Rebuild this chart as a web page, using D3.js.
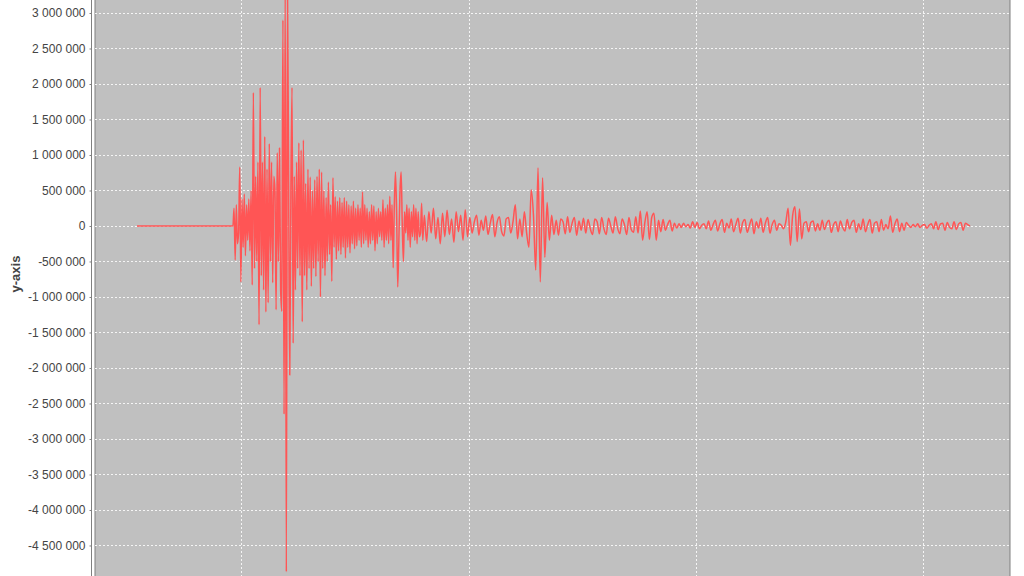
<!DOCTYPE html>
<html>
<head>
<meta charset="utf-8">
<script src="https://cdn.jsdelivr.net/npm/d3@7"></script>
<style>
  html, body { margin: 0; padding: 0; background: #ffffff; }
  svg { display: block; }
</style>
</head>
<body>
<svg id="chart" width="1024" height="576"></svg>
<script>
// ---- data (values in thousands) ----
const leadTimes = [5.41, 9.58];
const leadValues = [0, 0];

const burstStart = 9.63, burstStep = 0.05;
const burstValues = [
  0, 250, -480, 300, -250, -100, 830, -790, 380, -300,
  450, -420, 300, -200, 380, -350, 500, -830, 1880, -600,
  700, -500, 900, -1390, 1950, -700, 900, -900, 1260, -1210,
  800, -1080, 1160, -500, 900, -800, 700, 500, -1180, 1030,
  -500, 1100, -900, -1200, 2900, -2650, 3400, -4870, 3400, 600,
  -2100, 500, 1950, -1650, 700, -900, 900, -600, 1170, -700,
  1070, -1350, 1210, -700, 600, -900, 800, -600, 690, -850,
  500, -600, 650, -710, 700, -500, 800, -1000, 760, -600,
  500, -700, 400, -500, 620, -400, 300, -780, 680, -300,
  410, -470, 350, -350, 400, -400, 330, -300, 400, -450,
  350, -300, 300, -380, 280, -250, 350, -320, 250, -280,
  300, -200, 250, -300, 480, -250, 300, -200, 250, -300,
  200, -250, 300, -200, 280, -350, 200, -250, 250, -150,
  200, -200, 370, -300, 250, -200, 300, -250, 420, -200,
  300, -590, 300, 760, 200, -860, -200, 500, 760, 0,
  -500, 200, -100, 300, -200, 250, -300, 200, -150, 300,
  -200, 250, -250, 200, -150, -100, 320, -200
];

const codaStart = 18.05, codaStep = 0.1;
const codaValues = [
  150, -220, 200, -100, 250, -180, 120, -250, 180, -150,
  220, -120, 100, -230, 200, -80, 150, -200, 230, -150,
  120, -100, 60, 150, -130, 80, -60, 140, -120, 40,
  160, -150, 50, 130, -80, -140, 100, 120, -100, 60,
  300, -180, 100, -150, 200, -100,
  -300, 510, 150, -620, 820, -790, 680, -440, 330, -200, 150,
  -120, 80, -130, 100, 60, -110, 130, -90, 40, 120,
  -130, 70, -60, 110, -100, 90, -40, -120, 100, 60, -110,
  120, -40, -120, 110, 0, -100, 130, -30, -110, 100,
  20, -120, 120, -50, -90, 130,
  -100, 210, -200, 50, 200, -190, 120, 180, -200, 80,
  -80, 90, -60, 20, 80, -70, 40, -30, 30, -20,
  40, -10, 20, -30, 60, -20, 50, -40, 10, 30,
  -40, 70, -60, 20, 80, -70, 30, 90, -90, 40,
  -30, 100, -80, 20, 110, -100, 50, 90, -90, 10,
  100, -110, 60, -30, 110, -90, 40, 120, -100, 20,
  80, -60, 30, 10, -40, 60,
  250, -270, 150, 270, -220, 240, -180, 40,
  60, -80, 50, 70, -70, 30, -60, 80, -50, 40,
  80, -90, 20, 60, -80, 70, -20, -70, 90, -40,
  50, 80, -90, 30, -50, 100, -80, 20, 90, -100,
  40, 60, -80, 90, -60, 20, -40, 140,
  -90, 30, 100, -80, 40, -60, 50,
  10, -20, 20, -10, 30, -20, 10, 20, -30, 10, 30,
  -40, 60, -50, 30, 40, -60, 50, -20, -40, 60, -50, 30, 50, -60, 40, 20, 0
];

const yTicks = [3000000, 2500000, 2000000, 1500000, 1000000, 500000, 0,
  -500000, -1000000, -1500000, -2000000, -2500000, -3000000, -3500000,
  -4000000, -4500000];
const xGridTicks = [10, 20, 30, 40];
const xDomain = [3.564, 43.81];
const yDomain = [-4930000, 3183000];
const yAxisTitle = "y-axis";

// ---- build series ----
const series = [];
leadTimes.forEach((t, i) => series.push({ t, v: leadValues[i] * 1000 }));
burstValues.forEach((v, i) => series.push({ t: burstStart + i * burstStep, v: v * 1000 }));
codaValues.forEach((v, i) => series.push({ t: codaStart + i * codaStep, v: v * 1000 }));

// ---- layout ----
const W = 1024, H = 576;
const plot = { left: 95, right: 1010, top: 0, bottom: 576 };
const axisX = 91.5;

const svg = d3.select("#chart");
const x = d3.scaleLinear().domain(xDomain).range([plot.left, plot.right]);
const y = d3.scaleLinear().domain(yDomain).range([plot.bottom, plot.top]);

svg.append("rect").attr("width", W).attr("height", H).attr("fill", "#ffffff");

svg.append("defs").append("clipPath").attr("id", "clip")
  .append("rect")
  .attr("x", plot.left).attr("y", plot.top - 2)
  .attr("width", plot.right - plot.left).attr("height", plot.bottom - plot.top + 4);

svg.append("rect")
  .attr("x", plot.left).attr("y", -5)
  .attr("width", plot.right - plot.left).attr("height", H + 10)
  .attr("fill", "#c0c0c0")
  .attr("stroke", "#808080").attr("stroke-width", 1);

// gridlines
const grid = svg.append("g").attr("clip-path", "url(#clip)");
grid.selectAll("line.hg").data(yTicks).join("line")
  .attr("class", "hg")
  .attr("x1", plot.left).attr("x2", plot.right)
  .attr("y1", d => Math.round(y(d)) + 0.5).attr("y2", d => Math.round(y(d)) + 0.5)
  .attr("stroke", "#ffffff").attr("stroke-width", 1)
  .attr("stroke-dasharray", "2,2").attr("opacity", 0.85);
grid.selectAll("line.vg").data(xGridTicks).join("line")
  .attr("class", "vg")
  .attr("y1", plot.top - 5).attr("y2", plot.bottom + 5)
  .attr("x1", d => Math.round(x(d)) + 0.5).attr("x2", d => Math.round(x(d)) + 0.5)
  .attr("stroke", "#ffffff").attr("stroke-width", 1)
  .attr("stroke-dasharray", "2,2").attr("opacity", 0.85);

// series line
const line = d3.line().x(d => x(d.t)).y(d => y(d.v)).curve(d3.curveMonotoneX);
svg.append("g").attr("clip-path", "url(#clip)")
  .append("path")
  .datum(series)
  .attr("d", line)
  .attr("fill", "none")
  .attr("stroke", "#ff5555")
  .attr("stroke-width", 1.5)
  .attr("stroke-linejoin", "round");

// y axis
const loc = d3.formatLocale({ decimal: ",", thousands: " ", grouping: [3], currency: ["", ""], minus: "-" });
const fmt = loc.format(",d");
const yAxis = d3.axisLeft(y).tickValues(yTicks).tickFormat(fmt).tickSize(2).tickPadding(4).tickSizeOuter(0);
const gy = svg.append("g").attr("transform", `translate(${axisX},0)`).call(yAxis);
gy.select(".domain").attr("stroke", "#808080").attr("d", `M0,-5V${H + 5}`);
gy.selectAll(".tick line").attr("stroke", "#808080");
gy.selectAll(".tick text")
  .attr("fill", "#444444")
  .style("font-family", "'Liberation Sans', Arial, sans-serif")
  .style("font-size", "12px");

svg.append("text")
  .attr("transform", `translate(20,274) rotate(-90)`)
  .attr("text-anchor", "middle")
  .style("font-family", "'Liberation Sans', Arial, sans-serif")
  .style("font-size", "13px")
  .style("font-weight", "bold")
  .attr("fill", "#444444")
  .text(yAxisTitle);
</script>
</body>
</html>
